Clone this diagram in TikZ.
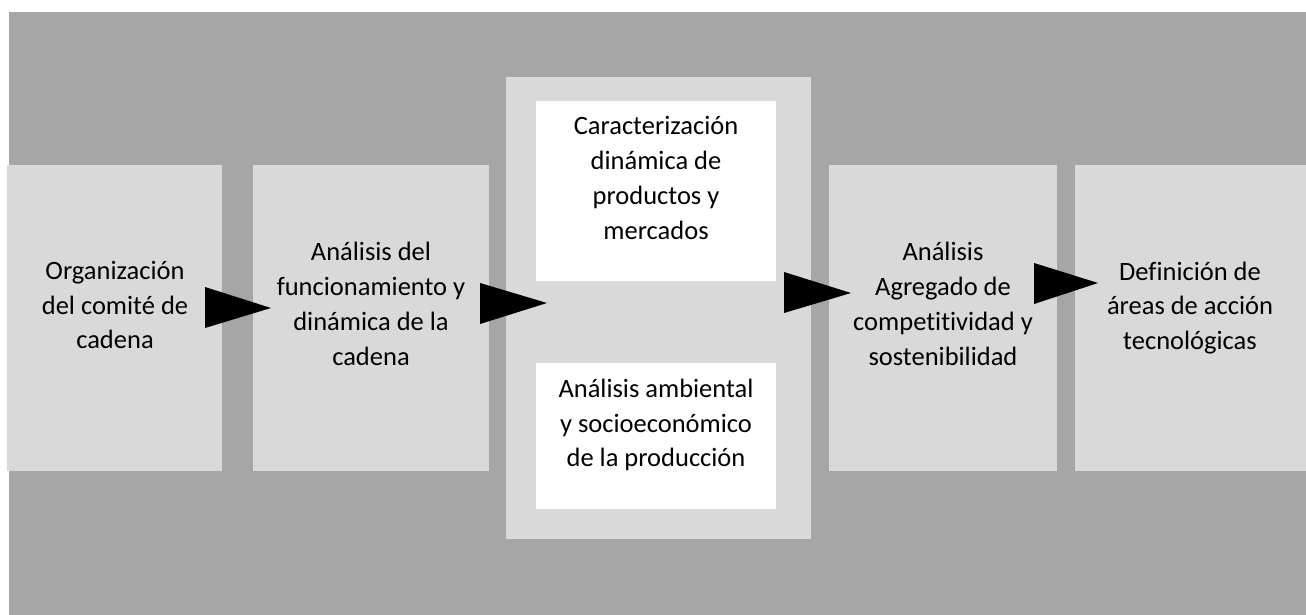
\documentclass[tikz,border=0pt]{standalone}
\usepackage{fontspec}
\setmainfont{Carlito}[Ligatures=NoCommon]
\definecolor{bgray}{HTML}{A6A6A6}
\definecolor{lgray}{HTML}{D9D9D9}
\tikzset{
  txt/.style={inner sep=0pt, align=center, font=\fontsize{26.5}{34.8}\selectfont, text=black},
  tri/.style={fill=black},
}
\begin{document}
\begin{tikzpicture}[x=1pt,y=-1pt]
\useasboundingbox (0,0) rectangle (1306,615);
\fill[bgray] (9,12) rectangle (1306,615);
% boxes
\fill[lgray] (7,165) rectangle (222,471);
\fill[lgray] (253,165) rectangle (489,471);
\fill[lgray] (506,77) rectangle (811,539);
\fill[white] (536,101) rectangle (776,281);
\fill[white] (536,363) rectangle (776,509);
\fill[lgray] (829,165) rectangle (1057,471);
\fill[lgray] (1075,165) rectangle (1306,471);
% texts
\node[txt] (t1) at (115,305) {Organización\\del comité de\\cadena};
\node[txt] (t2) at (371,304) {Análisis del\\funcionamiento y\\dinámica de la\\cadena};
\node[txt] (t3) at (656,178) {Caracterización\\dinámica de\\productos y\\mercados};
\node[txt] (t4) at (656,425) {Análisis ambiental\\y socioeconómico\\de la producción};
\node[txt] (t5) at (943,304) {Análisis\\Agregado de\\competitividad y\\sostenibilidad};
\node[txt] (t6) at (1190,308) {Definición de\\áreas de acción\\tecnológicas};
% arrows
\fill[tri] (205,287) -- (271,308) -- (205,328) -- cycle;
\fill[tri] (480,283) -- (547,303) -- (480,324) -- cycle;
\fill[tri] (784,272) -- (851,293) -- (784,313) -- cycle;
\fill[tri] (1034,263) -- (1098,283) -- (1034,304) -- cycle;
\end{tikzpicture}
\end{document}
